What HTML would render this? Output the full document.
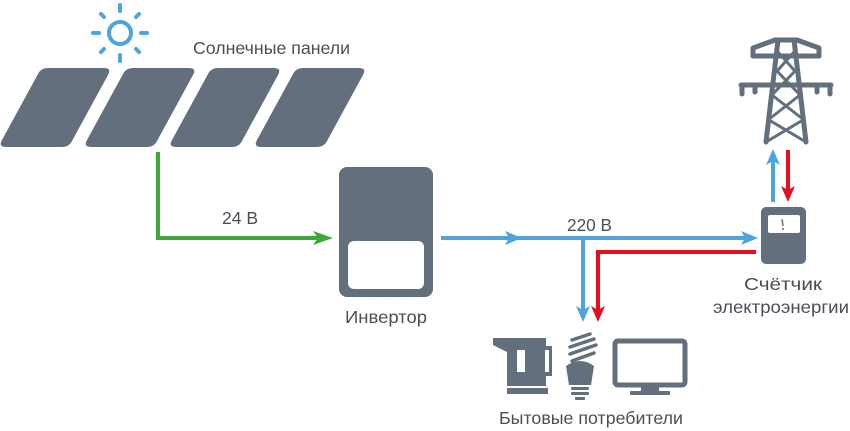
<!DOCTYPE html>
<html><head><meta charset="utf-8"><style>
html,body{margin:0;padding:0;background:#fff;}
svg{display:block;}
text{font-family:"Liberation Sans","DejaVu Sans",sans-serif;fill:#4a4f57;font-size:17.5px;}
</style></head><body>
<svg width="850" height="431" viewBox="0 0 850 431" xmlns="http://www.w3.org/2000/svg">
<g stroke="#4ea5dd" stroke-width="4" stroke-linecap="round" fill="none">
<circle cx="120" cy="33" r="11"/>
<line x1="120" y1="5" x2="120" y2="11"/><line x1="120" y1="55" x2="120" y2="61"/>
<line x1="93" y1="33" x2="99" y2="33"/><line x1="141" y1="33" x2="147" y2="33"/>
<line x1="101" y1="14" x2="104" y2="17"/><line x1="136" y1="49" x2="139" y2="52"/>
<line x1="139" y1="14" x2="136" y2="17"/><line x1="101" y1="52" x2="104" y2="49"/>
</g>
<text x="193" y="54" textLength="157" lengthAdjust="spacingAndGlyphs">Солнечные панели</text>
<g fill="#646f7e">
<path d="M48 68 H104 Q112 68 108 75 L72 141 Q69 147 62 147 H6 Q-2 147 2 140 L38 74 Q41 68 48 68Z"/>
<path d="M133 68 H189 Q197 68 193 75 L157 141 Q154 147 147 147 H91 Q83 147 87 140 L123 74 Q126 68 133 68Z"/>
<path d="M218 68 H274 Q282 68 278 75 L242 141 Q239 147 232 147 H176 Q168 147 172 140 L208 74 Q211 68 218 68Z"/>
<path d="M303 68 H359 Q367 68 363 75 L327 141 Q324 147 317 147 H261 Q253 147 257 140 L293 74 Q296 68 303 68Z"/>
</g>
<polyline points="158,152 158,238 325,238" fill="none" stroke="#3aaa35" stroke-width="4"/>
<path d="M313 231 L333 238 L313 245 L318 238Z" fill="#3aaa35"/>
<text x="222" y="224" textLength="36" lengthAdjust="spacingAndGlyphs">24 В</text>
<rect x="339" y="167" width="94" height="130" rx="8" fill="#646f7e"/>
<rect x="348" y="241" width="76" height="48" rx="6" fill="#fff"/>
<text x="386" y="323" text-anchor="middle" textLength="82" lengthAdjust="spacingAndGlyphs">Инвертор</text>
<line x1="441" y1="238" x2="752" y2="238" stroke="#4ea5dd" stroke-width="4"/>
<path d="M505 231 L522 238 L505 245 L509 238Z" fill="#4ea5dd"/>
<path d="M741 231 L758 238 L741 245 L745 238Z" fill="#4ea5dd"/>
<line x1="583" y1="238" x2="583" y2="312" stroke="#4ea5dd" stroke-width="4"/>
<path d="M576 306 L583 322 L590 306 L583 310Z" fill="#4ea5dd"/>
<text x="567" y="231" textLength="45" lengthAdjust="spacingAndGlyphs">220 В</text>
<polyline points="598,314 598,252 756,252" fill="none" stroke="#e3101d" stroke-width="4"/>
<path d="M591 306 L598 322 L605 306 L598 310Z" fill="#e3101d"/>
<rect x="761" y="207" width="45" height="57" rx="5" fill="#646f7e"/>
<rect x="768" y="215" width="32" height="18" rx="2" fill="#fff"/>
<line x1="782" y1="219" x2="783" y2="226" stroke="#646f7e" stroke-width="1.5"/>
<circle cx="783" cy="229" r="1" fill="#646f7e"/>
<text x="783" y="290" text-anchor="middle" textLength="78" lengthAdjust="spacingAndGlyphs">Счётчик</text>
<text x="781" y="313" text-anchor="middle" textLength="136" lengthAdjust="spacingAndGlyphs">электроэнергии</text>
<line x1="773" y1="202" x2="773" y2="160" stroke="#4ea5dd" stroke-width="4"/>
<path d="M766 165 L773 149 L780 165 L773 161Z" fill="#4ea5dd"/>
<line x1="788" y1="150" x2="788" y2="190" stroke="#e3101d" stroke-width="4"/>
<path d="M781 186 L788 202 L795 186 L788 190Z" fill="#e3101d"/>
<g stroke="#646f7e" fill="none" stroke-linecap="round">
<path d="M775 40 H797" stroke-width="5"/>
<path d="M753 56 H819" stroke-width="5"/>
<path d="M741 85 H831" stroke-width="5"/>
<path d="M753 48 V56 M819 48 V56 M775 40 L753 48 M797 40 L819 48" stroke-width="5"/>
<path d="M742 85 V94 M755 85 V92 M817 85 V92 M830 85 V94" stroke-width="5"/>
<path d="M778 40 L766 142 M794 40 L806 142" stroke-width="5"/>
<path d="M778 52 L794 70 M794 52 L778 70 M776 70 L800 95 M796 70 L772 95 M772 95 L804 120 M800 95 L768 120 M769 120 L806 142 M803 120 L766 142" stroke-width="3"/>
</g>
<g fill="#646f7e">
<path d="M493 338 H546 V386 H507 L507 352 L493 345Z"/>
<rect x="507" y="388" width="41" height="6"/>
<rect x="517" y="350" width="8" height="22" fill="#fff"/>
<path d="M540 346 H552 V376 H540Z"/>
<rect x="545" y="350" width="4" height="22" fill="#fff"/>
<path d="M566 366 Q580 356 594 366 L591 385 H569Z"/>
<rect x="571" y="387" width="18" height="3" rx="1"/>
<rect x="571" y="392" width="18" height="3" rx="1"/>
<rect x="575" y="397" width="10" height="3" rx="1"/>
</g>
<g stroke="#646f7e" stroke-width="3.5" fill="none" stroke-linecap="round">
<path d="M572 340 L590 334 M570 347 L594 339 M570 354 L596 345 M572 361 L594 353"/>
</g>
<rect x="615" y="341" width="70" height="44" rx="3" fill="none" stroke="#646f7e" stroke-width="5"/>
<rect x="641" y="386" width="18" height="6" fill="#646f7e"/>
<rect x="630" y="391" width="40" height="4" rx="1" fill="#646f7e"/>
<text x="591" y="424" text-anchor="middle" textLength="184" lengthAdjust="spacingAndGlyphs">Бытовые потребители</text>
</svg>
</body></html>
